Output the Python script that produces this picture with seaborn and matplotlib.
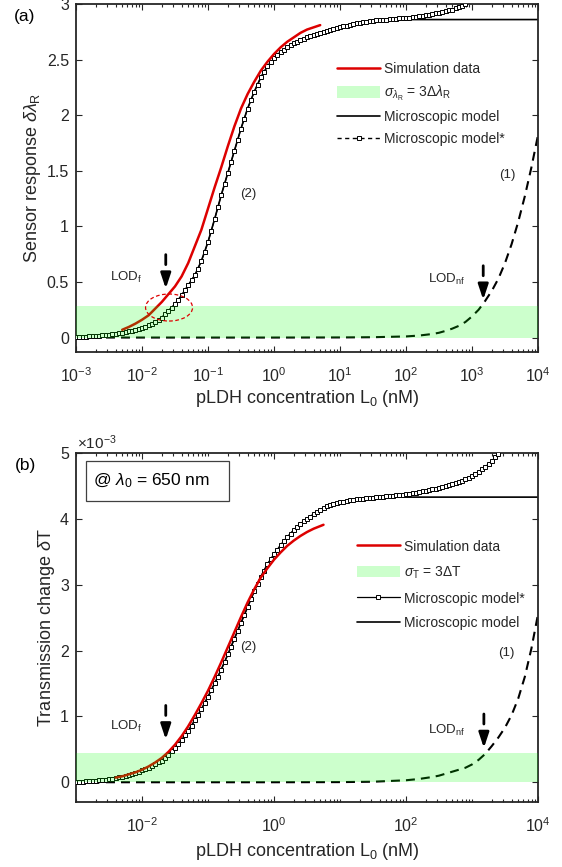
import numpy as np
import matplotlib
matplotlib.use('Agg')
import matplotlib.pyplot as plt
import seaborn as sns
from matplotlib.lines import Line2D
from matplotlib.patches import Patch, Ellipse, Rectangle
from matplotlib.ticker import FixedLocator, FuncFormatter, NullFormatter
from matplotlib.transforms import offset_copy

# ---------------- data (x given as log10 of pLDH concentration in nM) ----------------
GRID_START = -3.0
STAR_STEP = 0.05    # sampling of the "Microscopic model*" curves (one marker per sample)
MODEL_STEP = 0.1    # sampling of the "Microscopic model" curves

# panel (a): sensor response (nm)
a_star_y = [0.005, 0.006, 0.007, 0.0085, 0.010, 0.012, 0.014, 0.017, 0.020, 0.023,
            0.026, 0.030, 0.034, 0.039, 0.044, 0.050, 0.056, 0.063, 0.070, 0.079,
            0.088, 0.099, 0.110, 0.125, 0.140, 0.160, 0.180, 0.210, 0.240, 0.270,
            0.300, 0.340, 0.380, 0.425, 0.470, 0.515, 0.560, 0.620, 0.690, 0.770,
            0.860, 0.960, 1.065, 1.170, 1.280, 1.380, 1.480, 1.580, 1.680, 1.780,
            1.880, 1.970, 2.060, 2.135, 2.210, 2.275, 2.340, 2.390, 2.440, 2.475,
            2.510, 2.540, 2.570, 2.590, 2.610, 2.628, 2.645, 2.660, 2.675, 2.688,
            2.700, 2.710, 2.720, 2.730, 2.740, 2.750, 2.760, 2.768, 2.775, 2.783,
            2.790, 2.798, 2.805, 2.813, 2.820, 2.825, 2.830, 2.835, 2.840, 2.845,
            2.850, 2.853, 2.855, 2.858, 2.860, 2.863, 2.865, 2.868, 2.870, 2.873,
            2.875, 2.878, 2.880, 2.885, 2.890, 2.895, 2.900, 2.905, 2.910, 2.915,
            2.920, 2.928, 2.935, 2.943, 2.950, 2.960, 2.970, 2.985, 3.000]
a_model_y = [0.005, 0.007, 0.010, 0.014, 0.020, 0.026, 0.034, 0.044, 0.056, 0.070,
             0.088, 0.110, 0.140, 0.180, 0.240, 0.300, 0.380, 0.470, 0.560, 0.690,
             0.860, 1.065, 1.280, 1.480, 1.680, 1.880, 2.060, 2.210, 2.340, 2.440,
             2.510, 2.570, 2.610, 2.645, 2.675, 2.700, 2.720, 2.740, 2.760, 2.775,
             2.790, 2.805, 2.820, 2.830, 2.840, 2.850, 2.855, 2.860, 2.860, 2.860,
             2.860, 2.860, 2.860, 2.860, 2.860, 2.860, 2.860, 2.860, 2.860, 2.860,
             2.860, 2.860, 2.860, 2.860, 2.860, 2.860, 2.860, 2.860, 2.860, 2.860,
             2.860]
a_sim_logx = [-2.3, -2.2, -2.1, -2.0, -1.9, -1.8, -1.7, -1.6, -1.5, -1.4, -1.3,
              -1.2, -1.1, -1.0, -0.9, -0.8, -0.7, -0.6, -0.5, -0.4, -0.3, -0.2,
              -0.1, 0.0, 0.1, 0.2, 0.3, 0.4, 0.5, 0.6, 0.7]
a_sim_y = [0.07, 0.095, 0.125, 0.16, 0.20, 0.26, 0.32, 0.39, 0.46, 0.55, 0.67,
           0.82, 0.97, 1.16, 1.35, 1.53, 1.72, 1.90, 2.06, 2.19, 2.30, 2.40,
           2.48, 2.55, 2.61, 2.66, 2.70, 2.74, 2.77, 2.79, 2.81]
a_nf_logx = [-3.0, -2.0, -1.0, 0.0, 1.0, 1.5, 2.0, 2.2, 2.4, 2.5, 2.6, 2.7, 2.8,
             2.9, 3.0, 3.1, 3.2, 3.3, 3.4, 3.5, 3.6, 3.7, 3.8, 3.9, 4.0]
a_nf_y = [0.0, 0.0, 0.0, 0.0, 0.001, 0.003, 0.010, 0.018, 0.032, 0.043, 0.060,
          0.080, 0.105, 0.140, 0.190, 0.250, 0.330, 0.420, 0.530, 0.670, 0.840,
          1.040, 1.270, 1.530, 1.820]
a_band = 0.28
a_lod_f = (-1.64, 0.44)     # (log10 conc, arrow tip)
a_lod_nf = (3.17, 0.34)

# panel (b): transmission change (x 1e-3)
b_star_y = [0.005, 0.007, 0.010, 0.012, 0.015, 0.018, 0.022, 0.027, 0.032, 0.038,
            0.045, 0.053, 0.062, 0.073, 0.085, 0.097, 0.110, 0.125, 0.140, 0.160,
            0.180, 0.200, 0.220, 0.245, 0.270, 0.300, 0.330, 0.375, 0.420, 0.470,
            0.520, 0.580, 0.640, 0.710, 0.780, 0.860, 0.940, 1.025, 1.110, 1.205,
            1.300, 1.400, 1.500, 1.605, 1.710, 1.825, 1.940, 2.060, 2.180, 2.300,
            2.420, 2.540, 2.660, 2.780, 2.900, 3.010, 3.120, 3.215, 3.310, 3.385,
            3.460, 3.530, 3.600, 3.660, 3.720, 3.775, 3.830, 3.875, 3.920, 3.960,
            4.000, 4.035, 4.070, 4.100, 4.130, 4.160, 4.190, 4.205, 4.220, 4.235,
            4.250, 4.260, 4.270, 4.280, 4.290, 4.295, 4.300, 4.305, 4.310, 4.315,
            4.320, 4.325, 4.330, 4.335, 4.340, 4.345, 4.350, 4.355, 4.360, 4.365,
            4.370, 4.380, 4.390, 4.400, 4.410, 4.420, 4.430, 4.440, 4.450, 4.460,
            4.470, 4.485, 4.500, 4.515, 4.530, 4.545, 4.560, 4.580, 4.600, 4.625,
            4.650, 4.680, 4.710, 4.750, 4.790, 4.835, 4.880, 4.935, 4.990]
b_model_y = [0.005, 0.010, 0.015, 0.022, 0.032, 0.045, 0.062, 0.085, 0.110, 0.140,
             0.180, 0.220, 0.270, 0.330, 0.420, 0.520, 0.640, 0.780, 0.940, 1.110,
             1.300, 1.500, 1.710, 1.940, 2.180, 2.420, 2.660, 2.900, 3.120, 3.310,
             3.460, 3.600, 3.720, 3.830, 3.920, 4.000, 4.070, 4.130, 4.190, 4.220,
             4.250, 4.270, 4.290, 4.300, 4.310, 4.320, 4.325, 4.330, 4.330, 4.330,
             4.330, 4.330, 4.330, 4.330, 4.330, 4.330, 4.330, 4.330, 4.330, 4.330,
             4.330, 4.330, 4.330, 4.330, 4.330, 4.330, 4.330, 4.330, 4.330, 4.330,
             4.330]
b_sim_logx = [-2.4, -2.3, -2.2, -2.1, -2.0, -1.9, -1.8, -1.7, -1.6, -1.5, -1.4,
              -1.3, -1.2, -1.1, -1.0, -0.9, -0.8, -0.7, -0.6, -0.5, -0.4, -0.3,
              -0.2, -0.1, 0.0, 0.1, 0.2, 0.3, 0.4, 0.5, 0.6, 0.7, 0.75]
b_sim_y = [0.07, 0.09, 0.12, 0.15, 0.19, 0.24, 0.30, 0.37, 0.46, 0.57, 0.70,
           0.85, 1.02, 1.20, 1.39, 1.60, 1.82, 2.05, 2.28, 2.51, 2.73, 2.93,
           3.11, 3.25, 3.38, 3.49, 3.59, 3.67, 3.74, 3.80, 3.85, 3.89, 3.91]
b_nf_logx = [-3.0, -2.0, -1.0, 0.0, 1.0, 1.5, 2.0, 2.2, 2.4, 2.5, 2.6, 2.7, 2.8,
             2.9, 3.0, 3.1, 3.2, 3.3, 3.4, 3.5, 3.6, 3.7, 3.8, 3.9, 4.0]
b_nf_y = [0.0, 0.0, 0.0, 0.0, 0.002, 0.008, 0.030, 0.050, 0.080, 0.100, 0.130,
          0.160, 0.190, 0.220, 0.270, 0.340, 0.430, 0.550, 0.680, 0.830, 1.020,
          1.270, 1.600, 2.030, 2.550]
b_band = 0.44
b_lod_f = (-1.64, 0.65)
b_lod_nf = (3.18, 0.52)


def grid(vals, step):
    return np.round(GRID_START + step * np.arange(len(vals)), 3)


# ---------------- style ----------------
sns.set_theme(style='ticks')
plt.rcParams['font.family'] = ['Liberation Sans', 'DejaVu Sans']
plt.rcParams['mathtext.fontset'] = 'custom'
plt.rcParams['mathtext.rm'] = 'Liberation Sans'
plt.rcParams['mathtext.it'] = 'Liberation Sans:italic'
plt.rcParams['mathtext.bf'] = 'Liberation Sans:bold'

DARK = '#262626'
RED = '#dd0000'
BAND = (0.0, 1.0, 0.0, 0.2)

W, H = 562, 867
fig = plt.figure(figsize=(W / 100, H / 100), dpi=100)


def px_axes(l, t, r, b):
    return fig.add_axes([l / W, 1 - b / H, (r - l) / W, (b - t) / H])


ax_a = px_axes(76, 4, 538, 352)
ax_b = px_axes(76, 453, 538, 802)


def style_axes(ax, ylim, yticks, xmajor, xminor):
    ax.set_xscale('log')
    ax.set_xlim(1e-3, 1e4)
    ax.set_ylim(*ylim)
    ax.set_yticks(yticks)
    ax.yaxis.set_major_formatter(FuncFormatter(lambda v, p: f'{v:g}'))
    ax.xaxis.set_major_locator(FixedLocator(xmajor))
    ax.xaxis.set_minor_locator(FixedLocator(xminor))
    ax.xaxis.set_minor_formatter(NullFormatter())
    ax.tick_params(which='both', direction='in', top=True, right=True,
                   colors=DARK, labelcolor=DARK, width=0.8)
    ax.tick_params(which='major', length=4, labelsize=11.5)
    ax.tick_params(axis='y', which='major', pad=5)
    ax.tick_params(axis='x', which='major', pad=10.5)
    ax.tick_params(which='minor', length=2.2)
    for s in ax.spines.values():
        s.set_linewidth(1.3)
        s.set_color(DARK)


def minor_list(majors):
    out = []
    for n in range(-3, 4):
        for k in range(1, 10):
            v = k * 10.0 ** n
            if v <= 1e4 and not any(abs(v - m) / m < 1e-9 for m in majors):
                out.append(v)
    return out


def draw_panel(ax, star_y, model_y, sim_logx, sim_y, nf_logx, nf_y, band):
    sns.lineplot(x=10 ** grid(model_y, MODEL_STEP), y=model_y, ax=ax, color='black',
                 lw=1.2, estimator=None, sort=False, legend=False, zorder=2)
    sns.lineplot(x=10 ** grid(star_y, STAR_STEP), y=star_y, ax=ax, color='black', lw=0.8,
                 marker='s', markersize=3.0, markerfacecolor='white',
                 markeredgecolor='black', markeredgewidth=0.7,
                 estimator=None, sort=False, legend=False, zorder=3)
    sns.lineplot(x=10 ** np.array(nf_logx), y=nf_y, ax=ax, color='black', lw=1.5,
                 linestyle=(0, (4.3, 2.9)), estimator=None, sort=False,
                 legend=False, zorder=2)
    sns.lineplot(x=10 ** np.array(sim_logx), y=sim_y, ax=ax, color=RED, lw=1.8,
                 estimator=None, sort=False, legend=False, zorder=4)
    ax.axhspan(0, band, color=BAND[:3], alpha=BAND[3], lw=0, zorder=5)


def lod_arrow(ax, logx, ytip):
    x = 10 ** logx
    tr_dash = offset_copy(ax.transData, fig=fig, x=0, y=24, units='dots')
    ax.annotate('', xy=(x, ytip), xycoords=tr_dash, xytext=(0, 10),
                textcoords='offset pixels',
                arrowprops=dict(arrowstyle='-', lw=2.0, color='black',
                                shrinkA=0, shrinkB=0), zorder=7)
    ax.annotate('', xy=(x, ytip), xycoords='data', xytext=(0, 15),
                textcoords='offset pixels',
                arrowprops=dict(arrowstyle='-|>,head_length=0.9,head_width=0.3',
                                lw=2.0, color='black', shrinkA=0, shrinkB=0,
                                mutation_scale=10), zorder=7)


# ---------------- panel (a) ----------------
draw_panel(ax_a, a_star_y, a_model_y, a_sim_logx, a_sim_y, a_nf_logx, a_nf_y, a_band)
majors_a = [10.0 ** n for n in range(-3, 5)]
style_axes(ax_a, (-0.13, 3.0), [0, 0.5, 1, 1.5, 2, 2.5, 3], majors_a, minor_list(majors_a))
ax_a.set_xlabel(r'pLDH concentration L$_{\rm 0}$ (nM)', fontsize=13, color=DARK, labelpad=2)
ax_a.set_ylabel(r'Sensor response $\delta\lambda_{\rm R}$', fontsize=13, color=DARK, labelpad=3)

lod_arrow(ax_a, *a_lod_f)
lod_arrow(ax_a, *a_lod_nf)
ax_a.text(10 ** -2.24, 0.54, r'LOD$_{\rm f}$', fontsize=9.5, ha='center', va='center', color=DARK)
ax_a.text(10 ** 2.61, 0.52, r'LOD$_{\rm nf}$', fontsize=9.5, ha='center', va='center', color=DARK)
ax_a.text(10 ** -0.39, 1.29, '(2)', fontsize=9.5, ha='center', va='center', color=DARK)
ax_a.text(10 ** 3.53, 1.46, '(1)', fontsize=9.5, ha='center', va='center', color=DARK)

# dashed ellipse around LOD_f crossing
cx, cy = ax_a.transAxes.inverted().transform(ax_a.transData.transform((10 ** -1.59, a_band - 0.01)))
ax_a.add_patch(Ellipse((cx, cy), 47 / 462, 27 / 348, transform=ax_a.transAxes,
                       fill=False, edgecolor=RED, lw=0.9, linestyle=(0, (3, 2)), zorder=6))

handles_a = [
    Line2D([], [], color=RED, lw=1.8),
    Patch(facecolor=BAND, edgecolor='none'),
    Line2D([], [], color='black', lw=1.2),
    Line2D([], [], color='black', lw=1.0, linestyle=(0, (3, 2.5)), marker='s',
           markersize=3, markerfacecolor='white', markeredgecolor='black', markeredgewidth=0.7),
]
labels_a = ['Simulation data', r'$\sigma_{\lambda_{\rm R}}$ = 3$\Delta\lambda_{\rm R}$',
            'Microscopic model', 'Microscopic model*']
ax_a.legend(handles_a, labels_a, loc='upper left', bbox_to_anchor=(0.565, 0.833),
            frameon=False, fontsize=10, handlelength=3.1, handleheight=0.9,
            handletextpad=0.3, labelspacing=0.55, borderpad=0, borderaxespad=0,
            labelcolor=DARK)

# ---------------- panel (b) ----------------
draw_panel(ax_b, b_star_y, b_model_y, b_sim_logx, b_sim_y, b_nf_logx, b_nf_y, b_band)
majors_b = [1e-2, 1e0, 1e2, 1e4]
style_axes(ax_b, (-0.3, 5.0), [0, 1, 2, 3, 4, 5], majors_b, minor_list(majors_b))
ax_b.set_xlabel(r'pLDH concentration L$_{\rm 0}$ (nM)', fontsize=13, color=DARK, labelpad=4)
ax_b.set_ylabel(r'Transmission change $\delta$T', fontsize=13, color=DARK, labelpad=2)

lod_arrow(ax_b, *b_lod_f)
lod_arrow(ax_b, *b_lod_nf)
ax_b.text(10 ** -2.24, 0.84, r'LOD$_{\rm f}$', fontsize=9.5, ha='center', va='center', color=DARK)
ax_b.text(10 ** 2.61, 0.79, r'LOD$_{\rm nf}$', fontsize=9.5, ha='center', va='center', color=DARK)
ax_b.text(10 ** -0.39, 2.05, '(2)', fontsize=9.5, ha='center', va='center', color=DARK)
ax_b.text(10 ** 3.52, 1.96, '(1)', fontsize=9.5, ha='center', va='center', color=DARK)

ax_b.add_patch(Rectangle((10 / 462, 301 / 349), 143 / 462, 40 / 349, transform=ax_b.transAxes,
                         fill=False, edgecolor='#404040', lw=0.9, zorder=8))
ax_b.text(17 / 462, 321 / 349, r'@ $\lambda_{\rm 0}$ = 650 nm', transform=ax_b.transAxes,
          fontsize=12.5, ha='left', va='center', color='black', zorder=8)

handles_b = [
    Line2D([], [], color=RED, lw=1.8),
    Patch(facecolor=BAND, edgecolor='none'),
    Line2D([], [], color='black', lw=0.9, marker='s', markersize=3,
           markerfacecolor='white', markeredgecolor='black', markeredgewidth=0.7),
    Line2D([], [], color='black', lw=1.2),
]
labels_b = ['Simulation data', r'$\sigma_{\rm T}$ = 3$\Delta$T',
            'Microscopic model*', 'Microscopic model']
ax_b.legend(handles_b, labels_b, loc='upper left', bbox_to_anchor=(0.608, 0.752),
            frameon=False, fontsize=10, handlelength=3.1, handleheight=0.9,
            handletextpad=0.3, labelspacing=0.78, borderpad=0, borderaxespad=0,
            labelcolor=DARK)

fig.text(77 / W, 1 - 443 / H, r'$\times\mathdefault{10^{-3}}$', fontsize=11,
         ha='left', va='center', color=DARK)
fig.text(25 / W, 1 - 16 / H, '(a)', fontsize=12.5, ha='center', va='center', color='black')
fig.text(25 / W, 1 - 466 / H, '(b)', fontsize=12.5, ha='center', va='center', color='black')

fig.savefig('out.png', dpi=100)
